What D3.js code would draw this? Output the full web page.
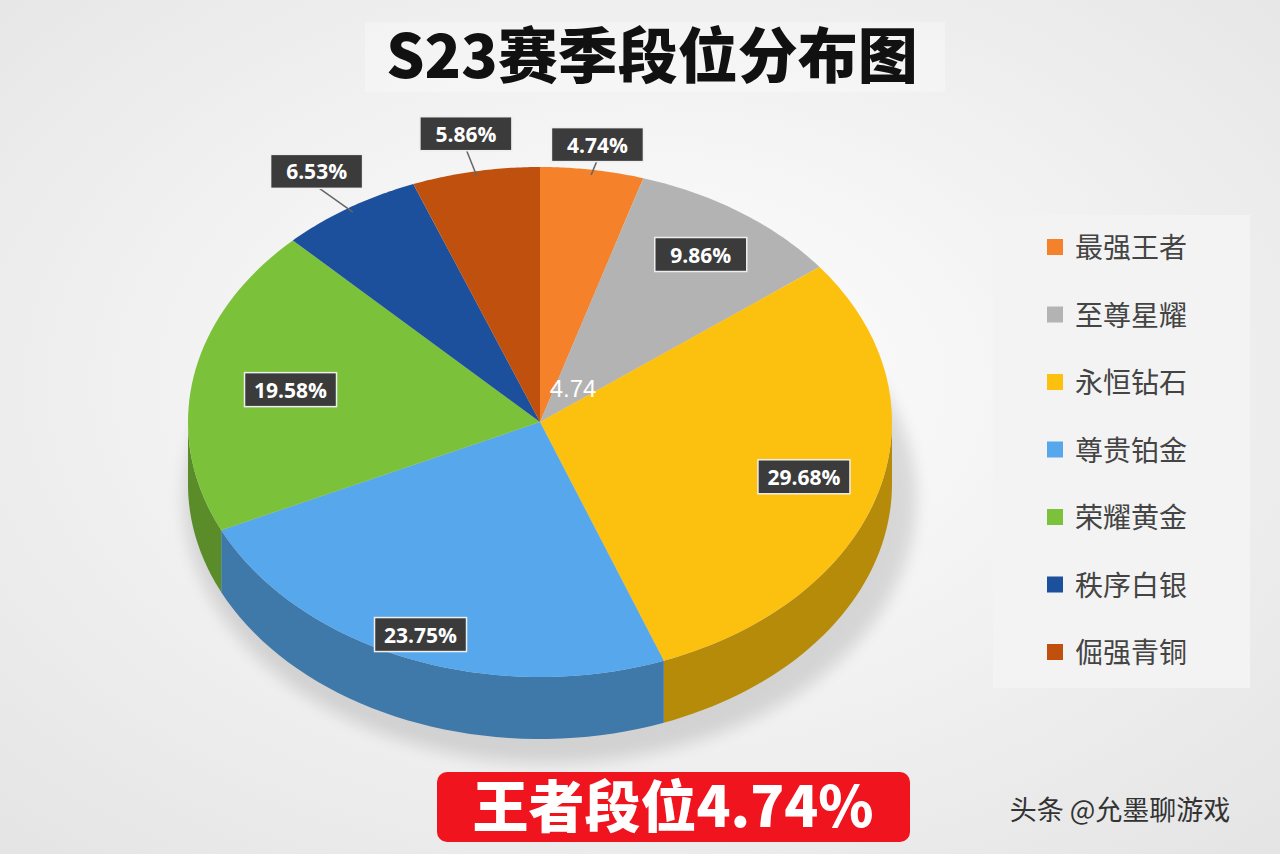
<!DOCTYPE html><html><head><meta charset="utf-8">
<script src="https://cdn.jsdelivr.net/npm/d3@7"></script>
<style>body{margin:0;}svg{display:block;}</style></head><body>
<svg id="c" width="1280" height="854"></svg>
<script>
const categories=["最强王者","至尊星耀","永恒钻石","尊贵铂金","荣耀黄金","秩序白银","倔强青铜"];
const values=[4.74,9.86,29.68,23.75,19.58,6.53,5.86];
const colors=["#f5812a","#b3b3b3","#fcc00e","#56a7eb","#7cc13a","#1c4f9c","#c0500d"];
const labelR=[1.1,0.8,0.78,0.9,0.72,1.17,1.15];
const svg=d3.select("#c");
const defs=svg.append("defs");
const bg=defs.append("radialGradient").attr("id","bg").attr("cx","50%").attr("cy","45%").attr("r","75%");
bg.append("stop").attr("offset","0").attr("stop-color","#ffffff");
bg.append("stop").attr("offset","1").attr("stop-color","#e4e4e4");
svg.append("rect").attr("width",1280).attr("height",854).attr("fill","url(#bg)");
const cx=540,cy=422,rx=352,ry=255,depth=62;
const pt=(a,dy=0,f=1)=>[cx+rx*f*Math.sin(a),cy+dy-ry*f*Math.cos(a)];
const pie=d3.pie().sort(null).value(d=>d)(values);
svg.append("ellipse").attr("cx",cx+10).attr("cy",cy+depth+14).attr("rx",rx+14).attr("ry",ry+10).attr("fill","#000").attr("opacity",0.12).style("filter","blur(8px)");
function arcPath(a0,a1,dy){const n=40;let s="";for(let i=0;i<=n;i++){const p=pt(a0+(a1-a0)*i/n,dy);s+=(i?"L":"M")+p[0]+","+p[1];}return s;}
pie.forEach((d,i)=>{
  const a0=Math.max(d.startAngle,Math.PI/2),a1=Math.min(d.endAngle,3*Math.PI/2);
  if(a1<=a0)return;
  const n=40;let pts=[];
  for(let k=0;k<=n;k++)pts.push(pt(a0+(a1-a0)*k/n));
  for(let k=n;k>=0;k--)pts.push(pt(a0+(a1-a0)*k/n,depth));
  svg.append("path").attr("d","M"+pts.map(p=>p.join(",")).join("L")+"Z")
    .attr("fill",d3.color(colors[i]).darker(0.9));
});
pie.forEach((d,i)=>{
  svg.append("path").attr("d",`M${cx},${cy}`+arcPath(d.startAngle,d.endAngle,0).replace("M","L")+"Z").attr("fill",colors[i]);
});
pie.forEach((d,i)=>{
  const m=(d.startAngle+d.endAngle)/2;
  const [lx,ly]=pt(m,0,labelR[i]);
  if(labelR[i]>1){const e=pt(m,0,0.98);svg.append("line").attr("x1",e[0]).attr("y1",e[1]).attr("x2",lx).attr("y2",ly+15).attr("stroke","#666").attr("stroke-width",1.5);}
  const t=values[i].toFixed(2)+"%";
  svg.append("rect").attr("x",lx-46).attr("y",ly-17).attr("width",92).attr("height",34).attr("fill","#3b3b3b").attr("stroke","#eee").attr("stroke-width",1.5);
  svg.append("text").attr("x",lx).attr("y",ly+8).attr("text-anchor","middle").attr("fill","#fff").attr("font-family","Open Sans, Arial").attr("font-weight","bold").attr("font-size",21).text(t);
});
svg.append("text").attr("x",573).attr("y",397).attr("text-anchor","middle").attr("fill","#fff").attr("font-family","Arial").attr("font-size",24).text(values[0]);
svg.append("rect").attr("x",365).attr("y",22).attr("width",580).attr("height",70).attr("fill","#fff").attr("opacity",0.3);
svg.append("text").attr("x",652).attr("y",78).attr("text-anchor","middle").attr("font-family","Noto Sans CJK SC").attr("font-weight","900").attr("font-size",60).attr("fill","#111").text("S23赛季段位分布图");
svg.append("rect").attr("x",993).attr("y",215).attr("width",257).attr("height",473).attr("fill","#f3f3f3");
categories.forEach((c,i)=>{
  const y=247+i*67.5;
  svg.append("rect").attr("x",1047).attr("y",y-8).attr("width",16).attr("height",16).attr("fill",colors[i]);
  svg.append("text").attr("x",1075).attr("y",y+11).attr("font-family","Noto Sans CJK SC").attr("font-size",28).attr("fill","#444").text(c);
});
svg.append("rect").attr("x",437).attr("y",772).attr("width",473).attr("height",70).attr("rx",10).attr("fill","#f0141e");
svg.append("text").attr("x",673).attr("y",827).attr("text-anchor","middle").attr("fill","#fff").attr("font-family","Noto Sans CJK SC").attr("font-weight","900").attr("font-size",56).text("王者段位4.74%");
svg.append("text").attr("x",1120).attr("y",820).attr("text-anchor","middle").attr("fill","#333").attr("font-family","Noto Sans CJK SC").attr("font-size",27).text("头条 @允墨聊游戏");
</script></body></html>
